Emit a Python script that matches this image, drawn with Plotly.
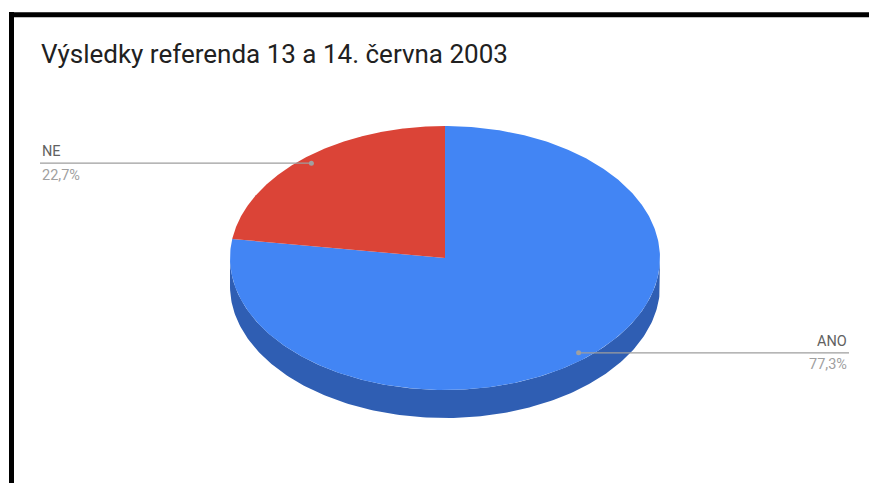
import numpy as np
import plotly.graph_objects as go

# ---- data ----
labels = ["ANO", "NE"]
values = [77.3, 22.7]
colors = ["#4285f4", "#db4437"]
side_colors = ["#2f5eb3", "#a3322a"]
title_text = "Výsledky referenda 13 a 14. června 2003"

# ---- geometry / style ----
W, H = 869, 483
cx, cy, rx, ry, depth = 445, 258, 215, 132, 28
label_left_x, label_right_x = 40, 849
start_angle = 90.0


def pt(t_deg, r=1.0, dz=0.0):
    t = np.radians(t_deg)
    return cx + r * rx * np.cos(t), cy - r * ry * np.sin(t) + dz


total = sum(values)
slices = []
a = start_angle
for lab, v, c, sc in zip(labels, values, colors, side_colors):
    sweep = 360.0 * v / total
    slices.append(dict(label=lab, value=v, color=c, side=sc, t0=a, t1=a - sweep))
    a -= sweep

fig = go.Figure()

# sides (front-facing part: sin(t) < 0)
for s in slices:
    hi, lo = s["t0"], s["t1"]
    for k in (-2, -1, 0, 1):
        f_lo, f_hi = k * 360 - 180, k * 360
        i_lo, i_hi = max(lo, f_lo), min(hi, f_hi)
        if i_hi - i_lo <= 0:
            continue
        ts = np.linspace(i_lo, i_hi, 200)
        xs_top, ys_top = pt(ts)
        xs_bot, ys_bot = pt(ts[::-1], dz=depth)
        xs = np.concatenate([xs_top, xs_bot, xs_top[:1]])
        ys = np.concatenate([ys_top, ys_bot, ys_top[:1]])
        fig.add_trace(go.Scatter(x=xs, y=ys, mode="lines", fill="toself",
                                 fillcolor=s["side"], line=dict(width=0, color=s["side"]),
                                 hoverinfo="skip"))

# top faces
for s in slices:
    ts = np.linspace(s["t0"], s["t1"], 400)
    xs, ys = pt(ts)
    xs = np.concatenate([[cx], xs, [cx]])
    ys = np.concatenate([[cy], ys, [cy]])
    fig.add_trace(go.Scatter(x=xs, y=ys, mode="lines", fill="toself",
                             fillcolor=s["color"], line=dict(width=0, color=s["color"]),
                             hoverinfo="skip"))

# leader lines and labels
annotations = []
for s in slices:
    mid = (s["t0"] + s["t1"]) / 2
    ax, ay = pt(mid, r=0.95)
    left = np.cos(np.radians(mid)) < 0
    lx = label_left_x if left else label_right_x
    fig.add_trace(go.Scatter(x=[lx, ax], y=[ay, ay], mode="lines",
                             line=dict(color="#9e9e9e", width=1.2), hoverinfo="skip"))
    fig.add_trace(go.Scatter(x=[ax], y=[ay], mode="markers",
                             marker=dict(color="#a0a0a0", size=5), hoverinfo="skip"))
    pct = f"{100 * s['value'] / total:.1f}".replace(".", ",") + "%"
    anchor = "left" if left else "right"
    annotations.append(dict(x=lx, y=ay - 1, xref="x", yref="y", text=s["label"],
                            showarrow=False, xanchor=anchor, yanchor="bottom",
                            font=dict(family="Roboto", size=14.5, color="#616161")))
    annotations.append(dict(x=lx, y=ay + 1.5, xref="x", yref="y", text=pct,
                            showarrow=False, xanchor=anchor, yanchor="top",
                            font=dict(family="Roboto", size=14.5, color="#a0a0a0")))

annotations.append(dict(x=39, y=54, xref="x", yref="y", text=title_text,
                        showarrow=False, xanchor="left", yanchor="middle",
                        font=dict(family="Roboto", size=26, color="#212121")))

shapes = [
    dict(type="line", xref="x", yref="y", x0=11.5, x1=11.5, y0=12, y1=H,
         line=dict(color="black", width=5)),
    dict(type="line", xref="x", yref="y", x0=9, x1=W, y0=14.7, y1=14.7,
         line=dict(color="black", width=5)),
]

fig.update_layout(
    width=W, height=H,
    margin=dict(l=0, r=0, t=0, b=0),
    paper_bgcolor="white", plot_bgcolor="white",
    showlegend=False,
    xaxis=dict(range=[0, W], visible=False, fixedrange=True),
    yaxis=dict(range=[H, 0], visible=False, fixedrange=True),
    annotations=annotations,
    shapes=shapes,
)

fig.write_html("out.html", config={"displayModeBar": False},
               post_script="document.body.style.margin='0px';document.body.style.overflow='hidden';")
